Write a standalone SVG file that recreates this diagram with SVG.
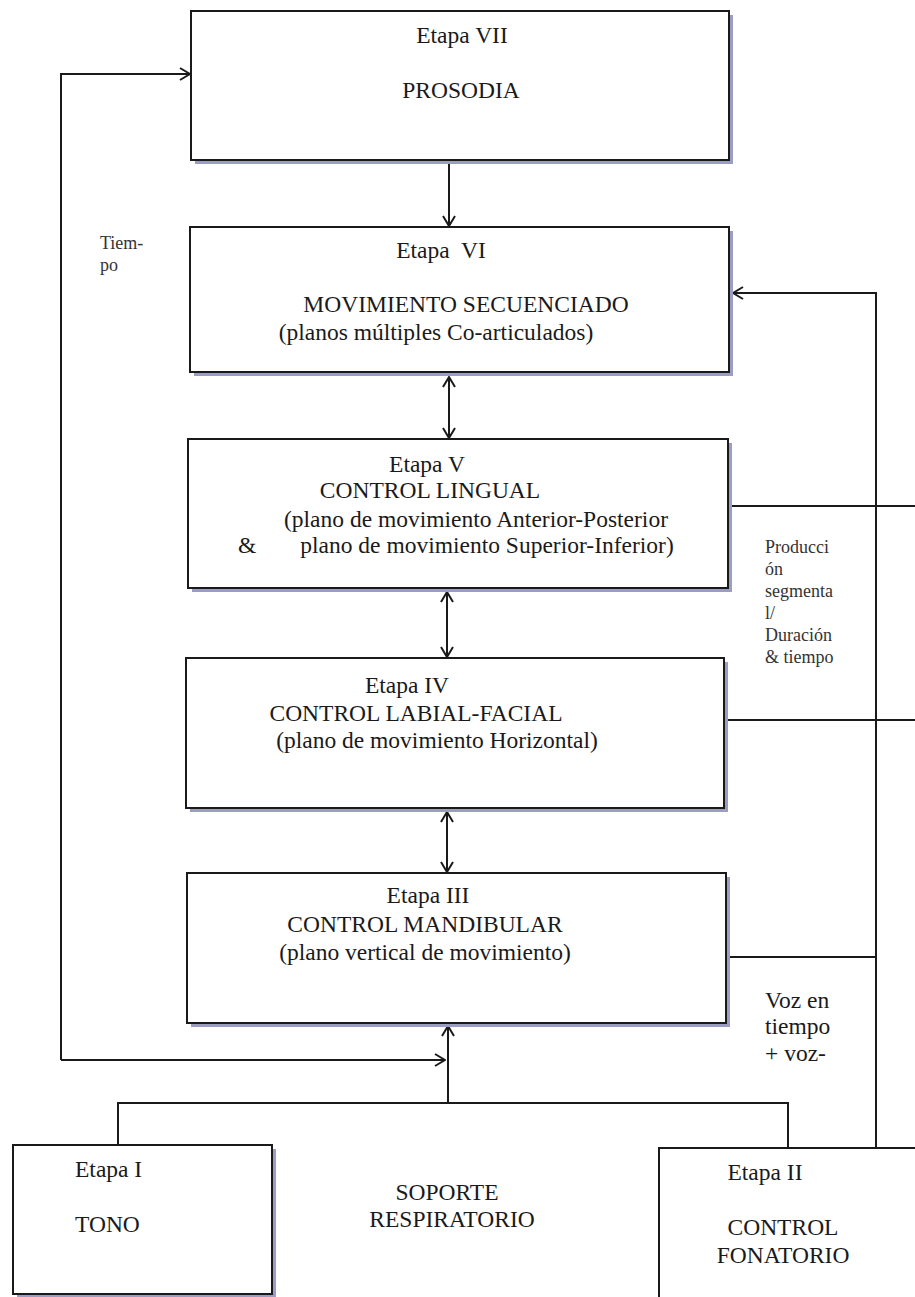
<svg xmlns="http://www.w3.org/2000/svg" width="915" height="1297" viewBox="0 0 915 1297">
<style>
.box{fill:#fff;stroke:#1a1a1a;stroke-width:2}
.shadow{fill:#9b9ec2;stroke:none}
text{font-family:"Liberation Serif","DejaVu Serif","Noto Serif",serif}
.t{font-size:23.5px;fill:#1a1a1a}
.m{text-anchor:middle}
.s{font-size:18px;fill:#333}
.v{font-size:23.5px;fill:#1a1a1a}
.ln{fill:none;stroke:#1a1a1a;stroke-width:2}
</style>
<defs>
<marker id="ah" viewBox="0 0 12 14" refX="11" refY="7" markerWidth="12" markerHeight="14" markerUnits="userSpaceOnUse" orient="auto-start-reverse">
<path d="M1,1 L11,7 L1,13" fill="none" stroke="#1a1a1a" stroke-width="2"/>
</marker>
</defs>
<rect width="915" height="1297" fill="#fff"/>

<g id="connectors">
<line class="ln" x1="449" y1="164" x2="449" y2="226" marker-end="url(#ah)"/>
<line class="ln" x1="449" y1="377" x2="449" y2="438" marker-start="url(#ah)" marker-end="url(#ah)"/>
<line class="ln" x1="447" y1="592" x2="447" y2="657" marker-start="url(#ah)" marker-end="url(#ah)"/>
<line class="ln" x1="447" y1="812" x2="447" y2="872" marker-start="url(#ah)" marker-end="url(#ah)"/>
<line class="ln" x1="448" y1="1103" x2="448" y2="1026" marker-end="url(#ah)"/>
<polyline class="ln" points="118,1145 118,1103 788,1103 788,1148"/>
<polyline class="ln" points="61,1060 61,74 190,74" marker-end="url(#ah)"/>
<path class="ln" d="M61,1060 L445,1060" marker-end="url(#ah)"/>
<polyline class="ln" points="876,1148 876,293 733,293" marker-end="url(#ah)"/>
<line class="ln" x1="732" y1="506" x2="915" y2="506"/>
<line class="ln" x1="728" y1="720" x2="915" y2="720"/>
<line class="ln" x1="730" y1="957" x2="876" y2="957"/>
</g>

<g id="etapa7">
<rect class="shadow" x="195" y="15" width="538" height="149"/>
<rect class="box" x="191" y="11" width="538" height="149"/>
<text class="t m" x="462" y="43">Etapa VII</text>
<text class="t m" x="461" y="98">PROSODIA</text>
</g>

<g id="etapa6">
<rect class="shadow" x="194" y="231" width="539" height="145"/>
<rect class="box" x="190" y="227" width="539" height="145"/>
<text class="t m" x="441" y="258" xml:space="preserve">Etapa  VI</text>
<text class="t m" x="466" y="312">MOVIMIENTO SECUENCIADO</text>
<text class="t m" x="436" y="340">(planos múltiples Co-articulados)</text>
</g>

<g id="etapa5">
<rect class="shadow" x="192" y="443" width="540" height="149"/>
<rect class="box" x="188" y="439" width="540" height="149"/>
<text class="t m" x="427" y="472">Etapa V</text>
<text class="t m" x="430" y="498">CONTROL LINGUAL</text>
<text class="t m" x="476" y="527">(plano de movimiento Anterior-Posterior</text>
<text class="t" x="238" y="553">&amp;</text>
<text class="t m" x="487" y="553">plano de movimiento Superior-Inferior)</text>
</g>

<g id="etapa4">
<rect class="shadow" x="190" y="662" width="538" height="150"/>
<rect class="box" x="186" y="658" width="538" height="150"/>
<text class="t m" x="407" y="693">Etapa IV</text>
<text class="t m" x="416" y="721">CONTROL LABIAL-FACIAL</text>
<text class="t m" x="437" y="748">(plano de movimiento Horizontal)</text>
</g>

<g id="etapa3">
<rect class="shadow" x="191" y="877" width="539" height="150"/>
<rect class="box" x="187" y="873" width="539" height="150"/>
<text class="t m" x="428" y="903">Etapa III</text>
<text class="t m" x="425" y="932">CONTROL MANDIBULAR</text>
<text class="t m" x="425" y="960">(plano vertical de movimiento)</text>
</g>

<g id="etapa1">
<rect class="shadow" x="17" y="1149" width="259" height="149"/>
<rect class="box" x="13" y="1145" width="259" height="149"/>
<text class="t" x="75" y="1177">Etapa I</text>
<text class="t" x="75" y="1232">TONO</text>
</g>

<g id="etapa2">
<rect class="box" x="659" y="1148" width="270" height="160"/>
<text class="t m" x="765" y="1180">Etapa II</text>
<text class="t m" x="783" y="1235">CONTROL</text>
<text class="t m" x="783" y="1263">FONATORIO</text>
</g>

<g id="soporte">
<text class="t m" x="447" y="1200">SOPORTE</text>
<text class="t m" x="452" y="1227">RESPIRATORIO</text>
</g>

<g id="labels">
<text class="s" x="100" y="249">Tiem-</text>
<text class="s" x="100" y="271">po</text>
<text class="s" x="765" y="553">Producci</text>
<text class="s" x="765" y="575">ón</text>
<text class="s" x="765" y="597">segmenta</text>
<text class="s" x="765" y="619">l/</text>
<text class="s" x="765" y="641">Duración</text>
<text class="s" x="765" y="663">&amp; tiempo</text>
<text class="v" x="765" y="1008">Voz en</text>
<text class="v" x="765" y="1034">tiempo</text>
<text class="v" x="765" y="1061">+ voz-</text>
</g>
</svg>
